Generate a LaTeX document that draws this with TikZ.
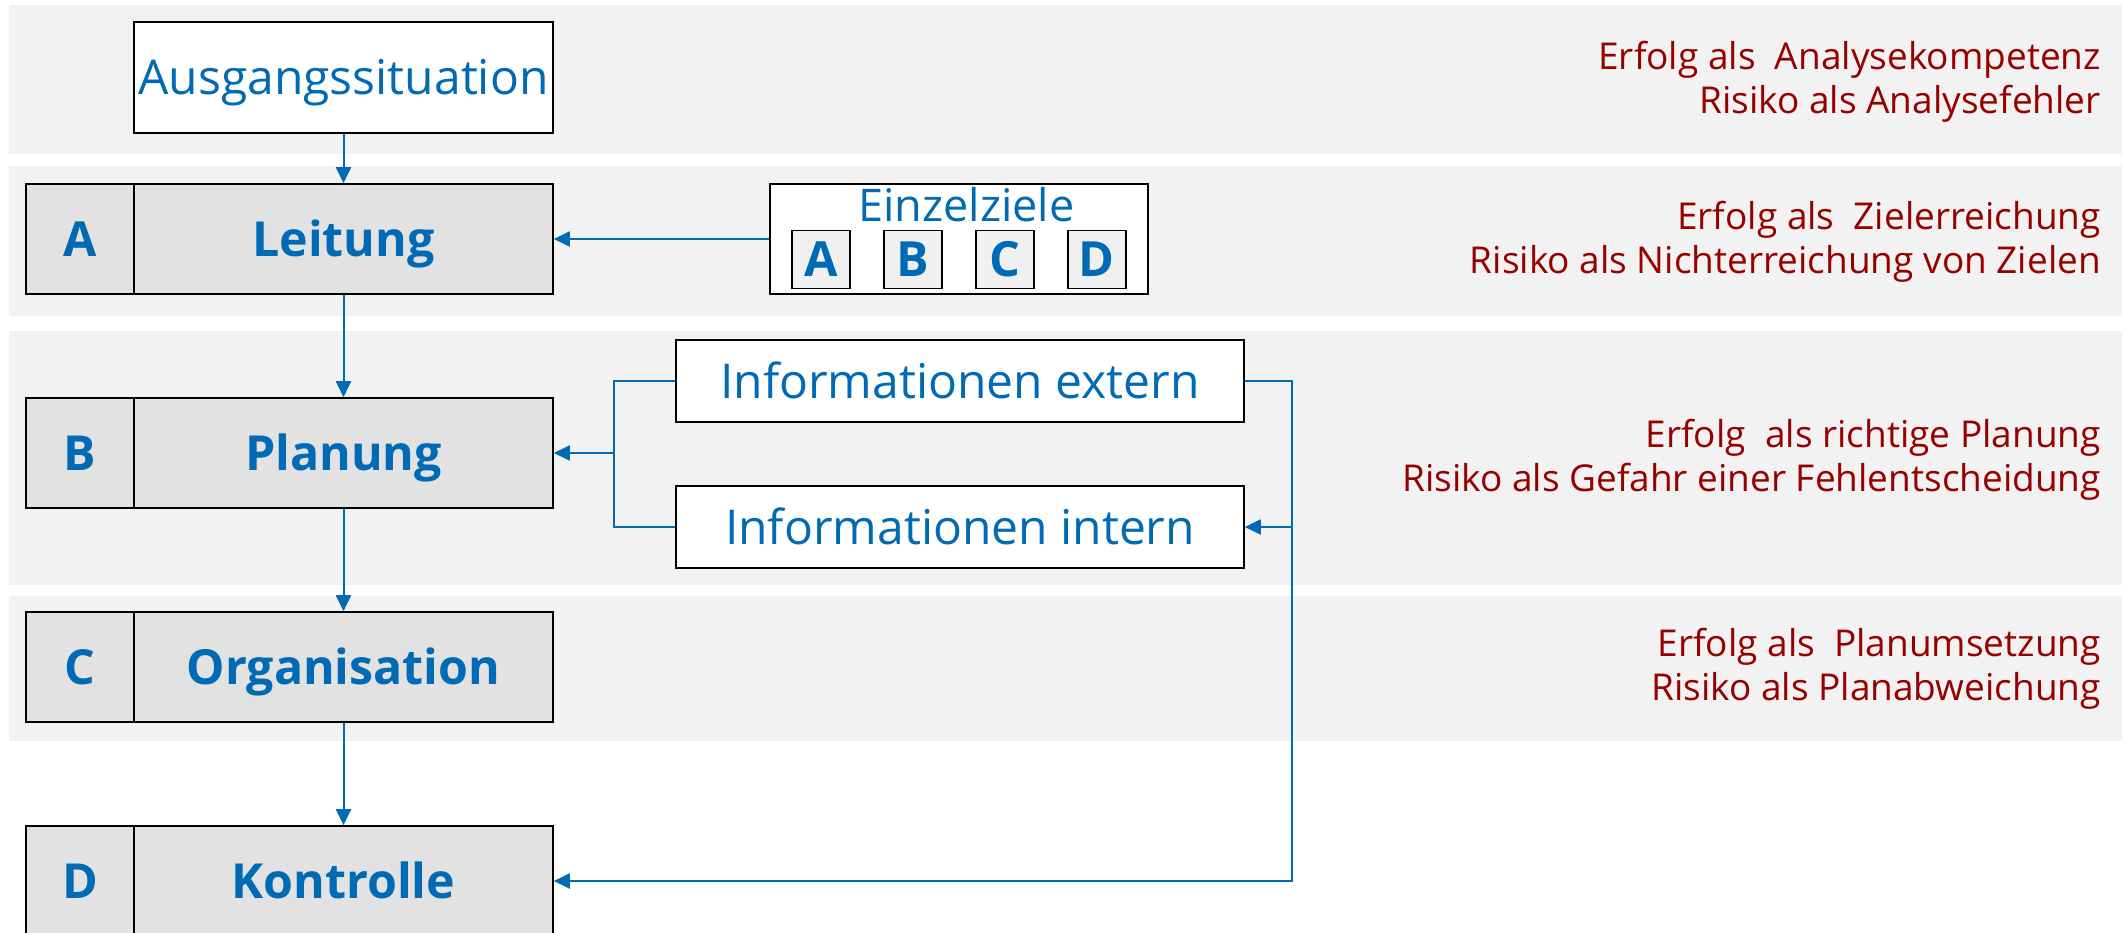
\documentclass[tikz,border=0pt]{standalone}
\usepackage{fontspec}
\setmainfont{Open Sans}
\usetikzlibrary{arrows.meta}

\definecolor{flowblue}{RGB}{0,106,180}
\definecolor{notered}{RGB}{152,0,0}
\definecolor{bandgray}{RGB}{242,242,242}
\definecolor{cellgray}{RGB}{226,226,226}
\definecolor{tilegray}{RGB}{240,240,240}

\tikzset{
  band/.style={fill=bandgray},
  % caps are centred vertically in every box
  framed/.style={draw=black, line width=1.6pt, inner sep=0pt, text=flowblue,
    text height=34.4pt, text depth=0pt},
  lettercell/.style={framed, fill=cellgray, minimum width=108pt, minimum height=110pt,
    font=\fontsize{48.3}{56}\selectfont\bfseries},
  namecell/.style={framed, fill=cellgray, minimum width=419pt, minimum height=110pt,
    font=\fontsize{48.3}{56}\selectfont\bfseries},
  infobox/.style={framed, fill=white, minimum width=568pt, minimum height=82pt,
    font=\fontsize{48}{56}\selectfont},
  tile/.style={framed, fill=tilegray, minimum width=58pt, minimum height=58pt,
    font=\fontsize{48.5}{56}\selectfont\bfseries},
  note/.style={anchor=base east, text=notered, inner sep=0pt,
    font=\fontsize{37}{43}\selectfont},
  wire/.style={draw=flowblue, line width=1.8pt},
  conn/.style={wire, line width=2pt, -{Triangle[length=16pt,width=15pt]}},
}

\begin{document}
\begin{tikzpicture}[x=1pt,y=-1pt]
\useasboundingbox (0,0) rectangle (2124,933);

% background bands
\fill[band] (9,5) rectangle (2122,154);
\fill[band] (9,166) rectangle (2122,316);
\fill[band] (9,331) rectangle (2122,585);
\fill[band] (9,596) rectangle (2122,741);

% starting point
\node[infobox, minimum width=419pt, minimum height=111pt]
  (aus) at (343.5,77.5) {Ausgangssituation};

% management steps A-D
\node[lettercell] (lA) at (80,239) {A};
\node[namecell]   (nA) at (343.5,239) {Leitung};
\node[lettercell] (lB) at (80,453) {B};
\node[namecell]   (nB) at (343.5,453) {Planung};
\node[lettercell] (lC) at (80,667) {C};
\node[namecell]   (nC) at (343.5,667) {Organisation};
\node[lettercell] (lD) at (80,881) {D};
\node[namecell]   (nD) at (343.5,881) {Kontrolle};

% individual goals
\node[framed, fill=white, minimum width=378pt, minimum height=110pt] (ez) at (959,239) {};
\node[text=flowblue, inner sep=0pt, anchor=base, font=\fontsize{45}{52}\selectfont]
  (ezt) at (966.5,221.5) {Einzelziele};
\node[tile] (tA) at (821,259.5) {A};
\node[tile] (tB) at (913,259.5) {B};
\node[tile] (tC) at (1005,259.5) {C};
\node[tile] (tD) at (1096.7,259.5) {D};

% information sources
\node[infobox] (ext) at (960,381) {Informationen extern};
\node[infobox] (int) at (960,527) {Informationen intern};

% main flow
\draw[conn] (aus.south) -- (nA.north);
\draw[conn] (nA.south) -- (nB.north);
\draw[conn] (nB.south) -- (nC.north);
\draw[conn] (nC.south) -- (nD.north);
\draw[conn] (ez.west) -- (nA.east);

% information feeding into planning
\coordinate (jl) at (614,453);
\draw[wire, line width=2pt] (ext.west) -| (jl) |- (int.west);
\draw[conn] (jl) -- (nB.east);

% feedback from control
\coordinate (jr) at (1292,527);
\draw[wire, line width=1.6pt] (ext.east) -| (jr);
\draw[conn] (jr) -- (int.east);
\draw[conn] (jr) |- (nD.east);

% success and risk notes, one line each
\node[note] (r1a) at (2101,70)    {Erfolg als~ Analysekompetenz};
\node[note] (r1b) at (2101,113.7) {Risiko als Analysefehler};
\node[note] (r2a) at (2101,230)   {Erfolg als~ Zielerreichung};
\node[note] (r2b) at (2101,273.7) {Risiko als Nichterreichung von Zielen};
\node[note] (r3a) at (2101,447.3) {Erfolg~ als richtige Planung};
\node[note] (r3b) at (2101,491)   {Risiko als Gefahr einer Fehlentscheidung};
\node[note] (r4a) at (2101,656.7) {Erfolg als~ Planumsetzung};
\node[note] (r4b) at (2101,700.4) {Risiko als Planabweichung};
\end{tikzpicture}
\end{document}
